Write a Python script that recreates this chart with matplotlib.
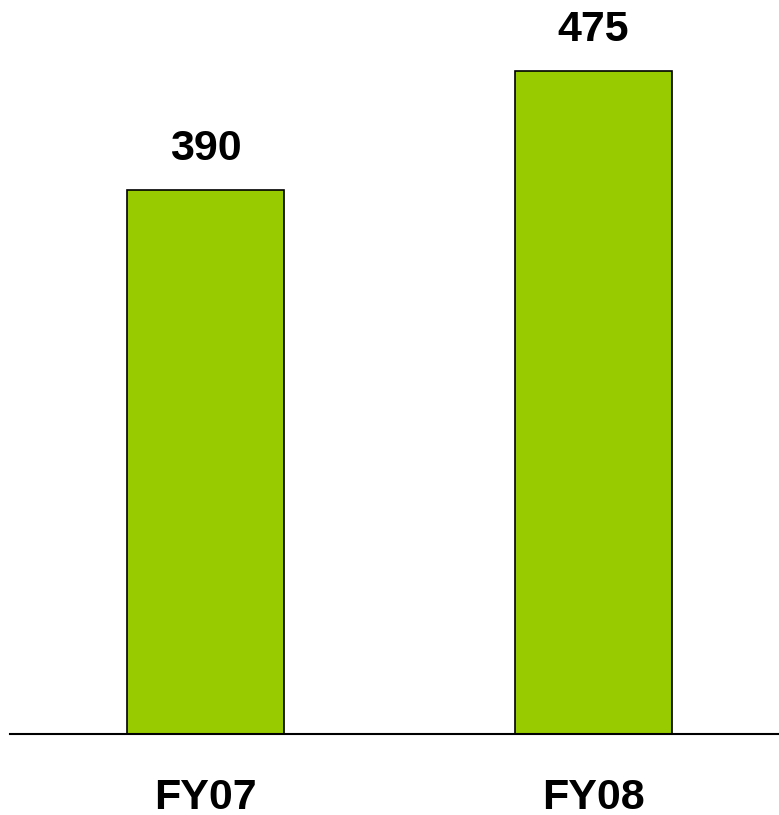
import matplotlib
matplotlib.use("Agg")
import matplotlib.pyplot as plt

# data
years = ["FY07", "FY08"]
values = [390, 475]

plt.rcParams['font.family'] = ['Liberation Sans', 'DejaVu Sans']

fig = plt.figure(figsize=(7.79, 8.15), dpi=100)
ax = fig.add_axes([0.0, 1 - 734 / 815, 1.0, 734 / 815])

pos = range(len(years))
bars = ax.bar(pos, values, width=0.405, color="#99CC00", edgecolor="black", linewidth=1.2)

for b, v in zip(bars, values):
    ax.text(b.get_x() + b.get_width() / 2, v + 15, str(v), ha="center", va="bottom",
            fontsize=31, fontweight="bold")

ax.set_xlim(-0.53, 1.478)
ax.set_ylim(0, 526)
ax.axhline(0, xmin=10 / 779, xmax=1.0, color="black", linewidth=1.5, clip_on=False)

ax.set_xticks(list(pos))
ax.set_xticklabels(years, fontsize=31, fontweight="bold")
ax.tick_params(axis="x", length=0, pad=32)
ax.set_yticks([])
for s in ax.spines.values():
    s.set_visible(False)

fig.savefig("out.png", dpi=100)
